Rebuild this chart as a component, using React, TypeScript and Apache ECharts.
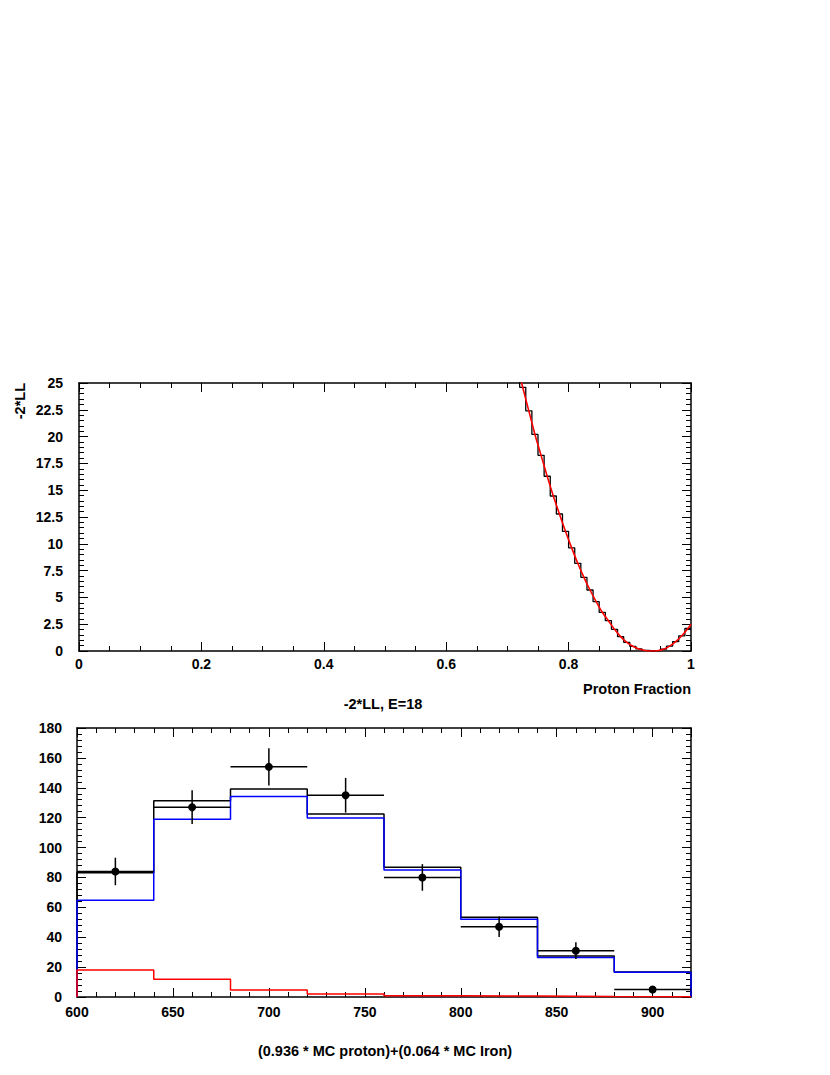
import React, { useEffect, useRef } from "react";
import * as echarts from "echarts";

// ---------- Top chart: -2*LL scan vs proton fraction ----------
const llBinEdges = [
  0.70, 0.71, 0.72, 0.73, 0.74, 0.75, 0.76, 0.77, 0.78, 0.79, 0.80,
  0.81, 0.82, 0.83, 0.84, 0.85, 0.86, 0.87, 0.88, 0.89, 0.90,
  0.91, 0.92, 0.93, 0.94, 0.95, 0.96, 0.97, 0.98, 0.99, 1.00,
];
const llValues = [
  29.2, 26.9, 24.6, 22.4, 20.2, 18.25, 16.3, 14.46, 12.78, 11.15,
  9.62, 8.18, 6.87, 5.69, 4.6, 3.61, 2.83, 2.02, 1.34, 0.81,
  0.44, 0.19, 0.05, 0.0, 0.03, 0.17, 0.45, 0.88, 1.42, 2.1,
];
const llCurveX = [
  0.705, 0.715, 0.725, 0.735, 0.745, 0.755, 0.765, 0.775, 0.785, 0.795,
  0.805, 0.815, 0.825, 0.835, 0.845, 0.855, 0.865, 0.875, 0.885, 0.895,
  0.905, 0.915, 0.925, 0.935, 0.945, 0.955, 0.965, 0.975, 0.985, 0.995, 1.0,
];
const llCurveY = [
  29.2, 26.9, 24.6, 22.4, 20.2, 18.25, 16.3, 14.46, 12.78, 11.15,
  9.62, 8.18, 6.87, 5.69, 4.6, 3.61, 2.83, 2.02, 1.34, 0.81,
  0.44, 0.19, 0.05, 0.0, 0.03, 0.17, 0.45, 0.88, 1.42, 2.1, 2.5,
];

// ---------- Bottom chart: data vs MC mixture ----------
const energyEdges = [600, 640, 680, 720, 760, 800, 840, 880, 920];
const binCenters = [620, 660, 700, 740, 780, 820, 860, 900];
const dataCounts = [84, 127, 154, 135, 80, 47, 31, 5];
const dataErrors = [9.2, 11.3, 12.4, 11.6, 8.9, 6.9, 5.6, 2.2];
const mcTotal = [83.2, 131.4, 139.2, 122.5, 86.8, 53.3, 27.5, 16.8];
const mcProton = [64.7, 118.9, 134.1, 119.8, 85.0, 52.0, 26.5, 16.5];
const mcIron = [18.1, 11.8, 4.7, 2.0, 0.9, 0.6, 0.3, 0.2];

const FONT = '"Liberation Sans", Arial, sans-serif';
const TITLE_FONT = `bold 14.5px ${FONT}`;

function histPoints(edges: number[], values: number[], closeLeft: boolean, closeRight: boolean) {
  const pts: number[][] = [];
  if (closeLeft) pts.push([edges[0], 0]);
  for (let i = 0; i < values.length; i++) {
    pts.push([edges[i], values[i]]);
    pts.push([edges[i + 1], values[i]]);
  }
  if (closeRight) pts.push([edges[edges.length - 1], 0]);
  return pts;
}

const labelStyle = {
  color: "#000",
  fontFamily: FONT,
  fontWeight: "bold" as const,
  fontSize: 14,
};

function makeAxis(opts: any) {
  const {
    gridIndex, position, min, max, interval, minorSplit, showLabel, labelMargin,
    showLine = true, tickLen = 9, showMaxLabel,
  } = opts;
  return {
    type: "value",
    gridIndex,
    position,
    min,
    max,
    interval,
    axisLine: { show: showLine, onZero: false, lineStyle: { color: "#000", width: 1.5 } },
    axisTick: { show: true, inside: true, length: tickLen, lineStyle: { color: "#000", width: 1 } },
    minorTick: minorSplit
      ? { show: true, splitNumber: minorSplit, length: 5, lineStyle: { color: "#000", width: 1 } }
      : { show: false },
    splitLine: { show: false },
    minorSplitLine: { show: false },
    axisLabel: showLabel
      ? { show: true, margin: labelMargin, ...labelStyle, showMaxLabel: showMaxLabel }
      : { show: false },
  };
}

function App() {
  const ref = useRef<HTMLDivElement>(null);

  useEffect(() => {
    if (!ref.current) return;
    const chart = echarts.init(ref.current, undefined, { renderer: "svg" });

    const dataItems = binCenters.map((c, i) => [
      c, dataCounts[i], dataErrors[i], energyEdges[i], energyEdges[i + 1],
    ]);

    const option: any = {
      animation: false,
      backgroundColor: "#fff",
      grid: [
        { left: 79, top: 383, width: 612, height: 268, containLabel: false },
        { left: 77, top: 728, width: 614, height: 269, containLabel: false },
      ],
      xAxis: [
        makeAxis({ gridIndex: 0, position: "bottom", min: 0, max: 1, interval: 0.2, minorSplit: 4, showLabel: true, labelMargin: 6 }),
        makeAxis({ gridIndex: 0, position: "top", min: 0, max: 1, interval: 0.2, minorSplit: 4, showLabel: false }),
        makeAxis({ gridIndex: 1, position: "bottom", min: 600, max: 920, interval: 50, showLabel: true, labelMargin: 8, showMaxLabel: false }),
        makeAxis({ gridIndex: 1, position: "top", min: 600, max: 920, interval: 50, showLabel: false }),
        makeAxis({ gridIndex: 1, position: "bottom", min: 600, max: 920, interval: 10, showLabel: false, showLine: false, tickLen: 5 }),
        makeAxis({ gridIndex: 1, position: "top", min: 600, max: 920, interval: 10, showLabel: false, showLine: false, tickLen: 5 }),
      ],
      yAxis: [
        makeAxis({ gridIndex: 0, position: "left", min: 0, max: 25, interval: 2.5, minorSplit: 5, showLabel: true, labelMargin: 16 }),
        makeAxis({ gridIndex: 0, position: "right", min: 0, max: 25, interval: 2.5, minorSplit: 5, showLabel: false }),
        makeAxis({ gridIndex: 1, position: "left", min: 0, max: 180, interval: 20, minorSplit: 5, showLabel: true, labelMargin: 15 }),
        makeAxis({ gridIndex: 1, position: "right", min: 0, max: 180, interval: 20, minorSplit: 5, showLabel: false }),
      ],
      series: [
        {
          type: "line",
          xAxisIndex: 0,
          yAxisIndex: 0,
          data: histPoints(llBinEdges, llValues, false, false),
          showSymbol: false,
          symbol: "none",
          clip: true,
          lineStyle: { color: "#000", width: 1.3 },
          z: 3,
        },
        {
          type: "line",
          xAxisIndex: 0,
          yAxisIndex: 0,
          data: llCurveX.map((x, i) => [x, llCurveY[i]]),
          showSymbol: false,
          symbol: "none",
          clip: true,
          smooth: 0.2,
          lineStyle: { color: "#ff0000", width: 1.6 },
          z: 4,
        },
        {
          type: "line",
          xAxisIndex: 2,
          yAxisIndex: 2,
          data: histPoints(energyEdges, mcTotal, true, true),
          showSymbol: false,
          symbol: "none",
          lineStyle: { color: "#000", width: 1.5 },
          z: 3,
        },
        {
          type: "line",
          xAxisIndex: 2,
          yAxisIndex: 2,
          data: histPoints(energyEdges, mcProton, true, true),
          showSymbol: false,
          symbol: "none",
          lineStyle: { color: "#0000ff", width: 1.5 },
          z: 4,
        },
        {
          type: "line",
          xAxisIndex: 2,
          yAxisIndex: 2,
          data: histPoints(energyEdges, mcIron, true, true),
          showSymbol: false,
          symbol: "none",
          lineStyle: { color: "#ff0000", width: 1.5 },
          z: 5,
        },
        {
          type: "custom",
          xAxisIndex: 2,
          yAxisIndex: 2,
          coordinateSystem: "cartesian2d",
          encode: { x: [0, 3, 4], y: [1] },
          data: dataItems,
          z: 6,
          renderItem: (params: any, api: any) => {
            const x = api.value(0);
            const y = api.value(1);
            const e = api.value(2);
            const lo = api.value(3);
            const hi = api.value(4);
            const pC = api.coord([x, y]);
            const pL = api.coord([lo, y]);
            const pR = api.coord([hi, y]);
            const pT = api.coord([x, y + e]);
            const pB = api.coord([x, y - e]);
            return {
              type: "group",
              children: [
                { type: "line", shape: { x1: pL[0], y1: pL[1], x2: pR[0], y2: pR[1] }, style: { stroke: "#000", lineWidth: 1.5 } },
                { type: "line", shape: { x1: pT[0], y1: pT[1], x2: pB[0], y2: pB[1] }, style: { stroke: "#000", lineWidth: 1.5 } },
                { type: "circle", shape: { cx: pC[0], cy: pC[1], r: 4 }, style: { fill: "#000" } },
              ],
            };
          },
        },
      ],
      graphic: [
        {
          type: "text",
          x: 20,
          y: 383,
          rotation: Math.PI / 2,
          style: { text: "-2*LL", font: TITLE_FONT, fill: "#000", textAlign: "right", textVerticalAlign: "middle" },
        },
        {
          type: "text",
          x: 691,
          y: 689,
          style: { text: "Proton Fraction", font: TITLE_FONT, fill: "#000", textAlign: "right", textVerticalAlign: "middle" },
        },
        {
          type: "text",
          x: 383,
          y: 704,
          style: { text: "-2*LL, E=18", font: TITLE_FONT, fill: "#000", textAlign: "center", textVerticalAlign: "middle" },
        },
        {
          type: "text",
          x: 385,
          y: 1051,
          style: { text: "(0.936 * MC proton)+(0.064 * MC Iron)", font: TITLE_FONT, fill: "#000", textAlign: "center", textVerticalAlign: "middle" },
        },
      ],
    };

    chart.setOption(option);
    return () => {
      chart.dispose();
    };
  }, []);

  return (
    <div
      ref={ref}
      style={{ position: "absolute", left: 0, top: 0, width: 830, height: 1075, background: "#fff" }}
    />
  );
}

export default App;
